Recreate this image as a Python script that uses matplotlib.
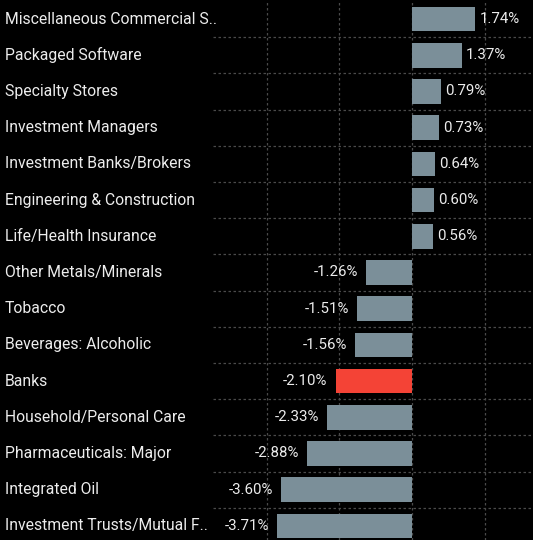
import matplotlib
matplotlib.use("Agg")
import matplotlib.pyplot as plt
import matplotlib.transforms as mtransforms

categories = [
    "Miscellaneous Commercial S..",
    "Packaged Software",
    "Specialty Stores",
    "Investment Managers",
    "Investment Banks/Brokers",
    "Engineering & Construction",
    "Life/Health Insurance",
    "Other Metals/Minerals",
    "Tobacco",
    "Beverages: Alcoholic",
    "Banks",
    "Household/Personal Care",
    "Pharmaceuticals: Major",
    "Integrated Oil",
    "Investment Trusts/Mutual F..",
]
values = [1.74, 1.37, 0.79, 0.73, 0.64, 0.60, 0.56, -1.26, -1.51, -1.56, -2.10, -2.33, -2.88, -3.60, -3.71]
highlight = "Banks"

bg = "#000000"
bar_color = "#7b8f99"
hi_color = "#f44336"
text_color = "#ececec"
grid_color = "#4a4a4a"

plt.rcParams['font.family'] = ['Roboto', 'DejaVu Sans']

fig = plt.figure(figsize=(5.33, 5.40), dpi=100, facecolor=bg)
ax = fig.add_axes([213/533, 0, 1 - 213/533, 1])
ax.set_facecolor(bg)

n = len(categories)
ys = list(range(n))
colors = [hi_color if c == highlight else bar_color for c in categories]
ax.barh(ys, values, height=0.68, color=colors, zorder=3)

ax.set_ylim(n - 0.61, -0.525)
ax.set_xlim(-5.47, 3.32)

# grid
ax.set_xticks([-4, -2, 0, 2])
ax.set_yticks([i + 0.5 for i in range(n - 1)])
ax.grid(True, color=grid_color, linestyle=(0, (2, 2)), linewidth=0.9, zorder=0)
ax.tick_params(left=False, bottom=False, labelleft=False, labelbottom=False)
for s in ax.spines.values():
    s.set_visible(False)

# category labels
trans = mtransforms.blended_transform_factory(fig.transFigure, ax.transData)
for y, c in zip(ys, categories):
    ax.text(5/533, y, c, transform=trans, ha='left', va='center',
            color=text_color, fontsize=11.3, clip_on=False)

# value labels
for y, v in zip(ys, values):
    if v >= 0:
        ax.annotate(f"{v:.2f}%", (v, y), xytext=(3, 0), textcoords='offset points',
                    ha='left', va='center', color=text_color, fontsize=10.8, zorder=4)
    else:
        ax.annotate(f"{v:.2f}%", (v, y), xytext=(-6, 0), textcoords='offset points',
                    ha='right', va='center', color=text_color, fontsize=10.8, zorder=4)

fig.savefig("out.png", dpi=100, facecolor=bg)
